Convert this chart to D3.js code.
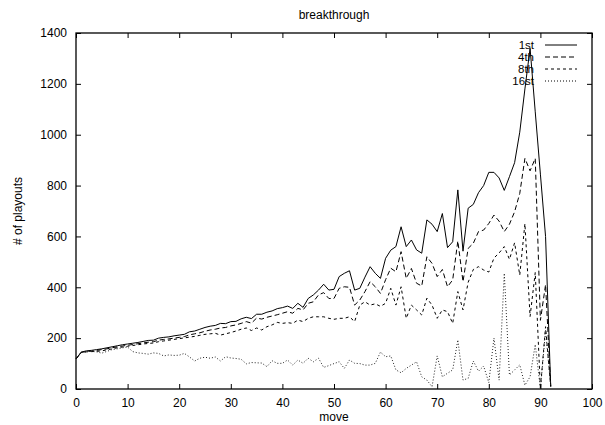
<!DOCTYPE html>
<html><head><meta charset="utf-8">
<script src="https://cdn.jsdelivr.net/npm/d3@7"></script>
<style>
html,body{margin:0;padding:0;background:#fff;}
svg{display:block;font-family:"Liberation Sans",Arial,Helvetica,sans-serif;}
</style></head>
<body><svg id="c" width="605" height="425"></svg>
<script>
const title = "breakthrough";
const xLabel = "move";
const yLabel = "# of playouts";
const seriesNames = ["1st", "4th", "8th", "16st"];
const xTicks = [0,10,20,30,40,50,60,70,80,90,100];
const yTicks = [0,200,400,600,800,1000,1200,1400];

const first = [118,145,150,152,155,158,162,166,170,174,
177,180,183,187,191,192,200,203,205,209,
212,215,225,228,235,242,247,250,258,257,
265,266,276,282,277,294,294,302,307,316,
320,326,317,337,321,356,370,389,412,389,
392,442,455,465,389,396,440,481,455,435,
514,546,560,638,560,586,547,534,665,648,
619,690,556,579,783,542,711,726,772,800,
852,852,830,781,835,890,1010,1180,1340,1090,
845,600,10];

const fourth = [118,144,147,149,152,155,158,162,166,169,
172,175,178,181,184,186,192,195,197,200,
203,206,213,217,221,227,232,235,240,242,
248,252,258,265,259,279,275,282,287,292,
298,304,298,317,311,337,343,370,379,356,
356,396,402,400,330,350,383,422,402,376,
430,475,461,540,435,474,416,405,520,494,
442,470,402,429,582,422,553,573,619,625,
651,684,660,619,648,697,769,907,858,907,
270,410,10];

const eighth = [118,143,146,147,148,150,154,158,162,165,
168,171,174,177,179,181,186,189,192,195,
198,201,204,207,211,215,217,219,212,217,
222,228,235,240,230,240,232,245,252,262,
258,261,258,271,265,278,284,284,284,278,
274,278,278,284,265,330,343,330,335,325,
337,396,330,402,278,330,311,291,357,330,
278,311,304,258,383,311,420,470,481,468,
460,515,535,560,510,575,448,650,285,458,
0,245,10];

const sixteenth = [118,145,147,148,146,141,148,155,158,162,
165,147,142,140,137,142,140,130,134,132,
133,140,126,110,121,125,121,126,110,127,
122,120,117,99,104,103,102,88,111,101,
101,114,94,114,101,121,107,121,85,92,
100,107,81,114,101,100,94,94,101,145,
127,130,75,64,81,94,107,48,35,9,
130,48,62,75,193,35,42,110,70,90,
25,200,35,455,55,75,95,15,48,175,
0,230,10];

const allSeries = [first, fourth, eighth, sixteenth];
const dashes = [null, "5,3", "3,3", "1,2"];

const svg = d3.select("#c");
const L = 76, R = 592, T = 33, B = 389;
const x = d3.scaleLinear().domain([0,100]).range([L,R]);
const y = d3.scaleLinear().domain([0,1400]).range([B,T]);
const fs = 12;

// data lines
const line = d3.line().x((d,i)=>x(i)).y(d=>y(d));
allSeries.forEach((s,k)=>{
  svg.append("path").datum(s)
    .attr("d", line)
    .attr("fill","none")
    .attr("stroke", k===3 ? "#222" : "#000")
    .attr("stroke-width", 1)
    .attr("stroke-dasharray", dashes[k]);
});

// axes (inward ticks, mirrored)
const tl = 5;
const fmt = d3.format("d");
const gB = svg.append("g").attr("transform",`translate(0,${B})`)
  .call(d3.axisBottom(x).tickValues(xTicks).tickFormat(fmt).tickSizeInner(-tl).tickSizeOuter(0).tickPadding(9));
const gT = svg.append("g").attr("transform",`translate(0,${T})`)
  .call(d3.axisTop(x).tickValues(xTicks).tickSizeInner(-tl).tickSizeOuter(0).tickFormat(""));
const gL = svg.append("g").attr("transform",`translate(${L},0)`)
  .call(d3.axisLeft(y).tickValues(yTicks).tickFormat(fmt).tickSizeInner(-tl).tickSizeOuter(0).tickPadding(9));
const gR = svg.append("g").attr("transform",`translate(${R},0)`)
  .call(d3.axisRight(y).tickValues(yTicks).tickSizeInner(-tl).tickSizeOuter(0).tickFormat(""));
[gB,gT,gL,gR].forEach(g=>{
  g.select(".domain").remove();
  g.selectAll("line").attr("stroke","#000").attr("stroke-width",1);
  g.selectAll("text").attr("font-size",fs).attr("fill","#000")
    .attr("font-family",'"Liberation Sans",Arial,sans-serif');
});

// frame
svg.append("rect").attr("x",L).attr("y",T).attr("width",R-L).attr("height",B-T)
  .attr("fill","none").attr("stroke","#000").attr("stroke-width",1.3);

// title & labels
svg.append("text").attr("x",(L+R)/2).attr("y",19).attr("text-anchor","middle")
  .attr("font-size",fs).text(title);
svg.append("text").attr("x",(L+R)/2).attr("y",421).attr("text-anchor","middle")
  .attr("font-size",fs).text(xLabel);
svg.append("text").attr("transform",`translate(22,${(T+B)/2}) rotate(-90)`)
  .attr("text-anchor","middle").attr("font-size",fs).text(yLabel);

// legend
const lg = svg.append("g");
seriesNames.forEach((n,k)=>{
  const yy = 45 + k*12;
  lg.append("text").attr("x",534).attr("y",yy).attr("dy","0.35em")
    .attr("text-anchor","end").attr("font-size",11.5).text(n);
  lg.append("line").attr("x1",545).attr("x2",577).attr("y1",yy).attr("y2",yy)
    .attr("stroke","#000").attr("stroke-width",1).attr("stroke-dasharray",dashes[k]);
});
</script></body></html>
